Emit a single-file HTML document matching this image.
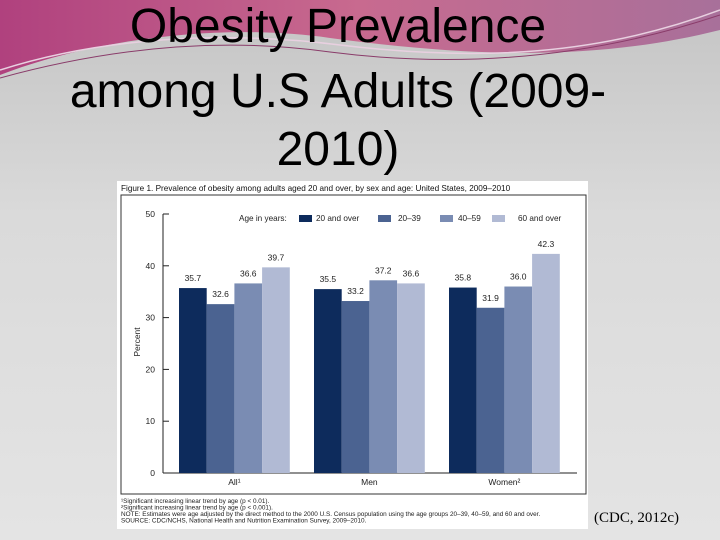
<!DOCTYPE html>
<html><head><meta charset="utf-8"><style>
body{margin:0;width:720px;height:540px;overflow:hidden;font-family:"Liberation Sans",sans-serif;}
#bg{position:absolute;left:0;top:0;width:720px;height:540px;background:linear-gradient(180deg,#c4c4c4 0%,#dadada 40%,#e4e4e4 100%);}
.t{position:absolute;left:0;width:676px;text-align:center;font-size:48px;color:#000;line-height:60px;}
</style></head><body>
<div id="bg"></div>
<svg width="720" height="540" style="position:absolute;left:0;top:0">
<defs><linearGradient id="sw" x1="0" x2="1"><stop offset="0" stop-color="#b0417e"/><stop offset="0.5" stop-color="#c86a8f"/><stop offset="1" stop-color="#a8709a"/></linearGradient></defs>
<path d="M0,0 H720 V30 C600,60 480,58 330,38 C220,22 90,40 0,75 Z" fill="url(#sw)"/>
<path d="M0,70 C100,38 220,30 340,45 C480,62 600,55 720,10" fill="none" stroke="#e8d0e0" stroke-width="1.5"/>
<path d="M0,78 C120,45 230,38 330,52 C470,70 600,55 720,15" fill="none" stroke="#8a3c6a" stroke-width="1"/>
</svg>
<div class="t" style="top:-3px">Obesity Prevalence</div>
<div class="t" style="top:62px">among U.S Adults (2009-</div>
<div class="t" style="top:120px">2010)</div>
<div style="position:absolute;left:594px;top:510px;font-family:'Liberation Serif',serif;font-size:15px;">(CDC, 2012c)</div>
<svg id="chart" width="720" height="540" style="position:absolute;left:0;top:0"></svg>
<script>
const categories=["All¹","Men","Women²"];
const seriesNames=["20 and over","20–39","40–59","60 and over"];
const s20over=[35.7,35.5,35.8];
const s2039=[32.6,33.2,31.9];
const s4059=[36.6,37.2,36.0];
const s60over=[39.7,36.6,42.3];
const yTicks=[0,10,20,30,40,50];
const series=[s20over,s2039,s4059,s60over];
const colors=["#0d2b5c","#4b6391","#7a8cb3","#b1bad4"];
const NS="http://www.w3.org/2000/svg";
const svg=document.getElementById('chart');
function y(v){return 473-v*5.18;}
function gx(i){return 179+i*135;}
const bw=27.7;
function mk(t,a,txt){const e=document.createElementNS(NS,t);for(const k in a)e.setAttribute(k,a[k]);if(txt!=null)e.textContent=txt;svg.appendChild(e);return e;}
let e;
e=mk('rect',{x:117,y:181,width:471,height:348,fill:'#fff'});


e=mk('text',{x:121,y:191,'font-size':8.2,fill:'#111'},'Figure 1. Prevalence of obesity among adults aged 20 and over, by sex and age: United States, 2009–2010');


e=mk('rect',{x:121,y:195,width:465,height:299,fill:'none',stroke:'#333','stroke-width':1});


e=mk('line',{x1:163,y1:y(50),x2:163,y2:y(0),stroke:'#222'});


e=mk('line',{x1:163,y1:y(0),x2:577,y2:y(0),stroke:'#222'});


yTicks.forEach(v=>{
 e=mk('line',{x1:163,y1:y(v),x2:169,y2:y(v),stroke:'#222'});
 
 
 e=mk('text',{x:155,y:y(v)+3,'font-size':8.5,'text-anchor':'end',fill:'#222'},String(v));
 
 
});
e=mk('text',{x:140,y:342,'font-size':8.5,'text-anchor':'middle',fill:'#222',transform:'rotate(-90 140 342)'},'Percent');


categories.forEach((c,i)=>{
 series.forEach((s,j)=>{
  const x=gx(i)+j*bw;
  e=mk('rect',{x:x,y:y(s[i]),width:bw,height:y(0)-y(s[i]),fill:colors[j]});
  
  
  e=mk('text',{x:x+bw/2,y:y(s[i])-7,'font-size':8.5,'text-anchor':'middle',fill:'#222'},s[i].toFixed(1));
  
  
 });
 e=mk('text',{x:gx(i)+2*bw,y:485,'font-size':8.5,'text-anchor':'middle',fill:'#222'},c);
 
 
});
e=mk('text',{x:239,y:221,'font-size':8.2,fill:'#222'},'Age in years:');


const lx=[299,378,440,492];
const tx=[316,398,458,518];
seriesNames.forEach((n,j)=>{
 e=mk('rect',{x:lx[j],y:215,width:13,height:7,fill:colors[j]});
 
 
 e=mk('text',{x:tx[j],y:221,'font-size':8.2,fill:'#222'},n);
 
 
});
const notes=["¹Significant increasing linear trend by age (p < 0.01).","²Significant increasing linear trend by age (p < 0.001).","NOTE: Estimates were age adjusted by the direct method to the 2000 U.S. Census population using the age groups 20–39, 40–59, and 60 and over.","SOURCE: CDC/NCHS, National Health and Nutrition Examination Survey, 2009–2010."];
notes.forEach((n,k)=>{
 e=mk('text',{x:121,y:503+k*6.5,'font-size':6.4,fill:'#222'},n);
 
 
});
</script>
</body></html>
